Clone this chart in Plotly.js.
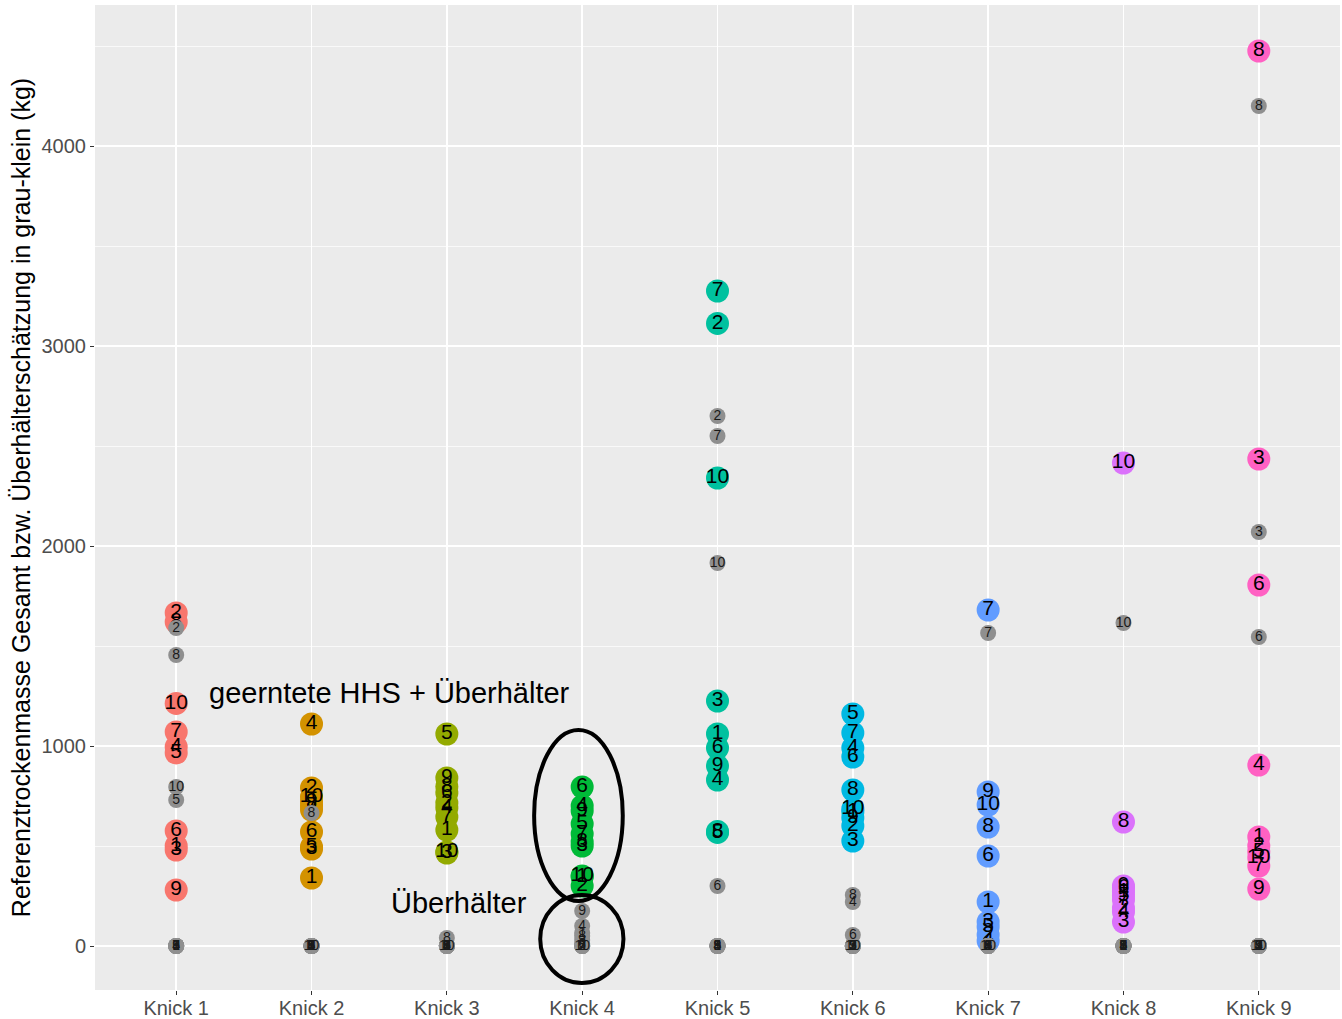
<!DOCTYPE html>
<html>
<head>
<meta charset="utf-8">
<script src="https://cdn.plot.ly/plotly-3.0.1.min.js"></script>
<style>
  html, body { margin: 0; padding: 0; background: #ffffff; }
  #chart { width: 1342px; height: 1019px; }
</style>
</head>
<body>
<div id="chart"></div>
<script>
// Knicks (hedgerow sections) on the x axis
const knicks = ['Knick 1', 'Knick 2', 'Knick 3', 'Knick 4', 'Knick 5', 'Knick 6', 'Knick 7', 'Knick 8', 'Knick 9'];
// tree numbers used as point labels
const baumNr = ['1', '2', '3', '4', '5', '6', '7', '8', '9', '10'];
const farben = ['#F8766D', '#D39200', '#93AA00', '#00BA38', '#00C19F', '#00B9E3', '#619CFF', '#DB72FB', '#FF61C3'];

// Referenztrockenmasse gesamt (kg), trees 1..10
const gesamtKnick1 = [500, 1665, 480, 995, 965, 575, 1070, 1620, 280, 1213];
const gesamtKnick2 = [340, 790, 485, 1110, 495, 570, 700, 680, 720, 745];
const gesamtKnick3 = [580, 715, 465, 690, 1060, 765, 645, 797, 840, 470];
const gesamtKnick4 = [345, 300, 500, 700, 610, 795, 560, 520, 675, 350];
const gesamtKnick5 = [1060, 3113, 1225, 830, 568, 990, 3275, 572, 900, 2340];
const gesamtKnick6 = [670, 600, 525, 990, 1160, 945, 1065, 780, 640, 685];
const gesamtKnick7 = [220, 55, 120, 25, 95, 450, 1680, 595, 770, 705];
const gesamtKnick8 = [270, 190, 120, 170, 250, 290, 230, 620, 300, 2415];
const gesamtKnick9 = [545, 500, 2435, 905, 470, 1805, 400, 4475, 285, 440];

// Überhälterschätzung (kg), trees 1..10
const ueberKnick1 = [0, 1590, 0, 0, 730, 0, 0, 1455, 0, 795];
const ueberKnick2 = [0, 0, 0, 0, 0, 0, 0, 665, 0, 0];
const ueberKnick3 = [0, 0, 0, 0, 0, 0, 0, 40, 0, 0];
const ueberKnick4 = [65, 0, 30, 100, 0, 10, 0, 50, 175, 0];
const ueberKnick5 = [0, 2650, 0, 0, 0, 300, 2550, 0, 0, 1915];
const ueberKnick6 = [0, 0, 0, 220, 0, 55, 0, 255, 0, 0];
const ueberKnick7 = [0, 0, 0, 0, 0, 0, 1565, 0, 0, 0];
const ueberKnick8 = [0, 0, 0, 0, 0, 0, 0, 0, 0, 1615];
const ueberKnick9 = [0, 0, 2070, 0, 0, 1545, 0, 4200, 0, 0];

const gesamt = [gesamtKnick1, gesamtKnick2, gesamtKnick3, gesamtKnick4, gesamtKnick5,
                gesamtKnick6, gesamtKnick7, gesamtKnick8, gesamtKnick9];
const ueber = [ueberKnick1, ueberKnick2, ueberKnick3, ueberKnick4, ueberKnick5,
               ueberKnick6, ueberKnick7, ueberKnick8, ueberKnick9];

const FONT = 'Liberation Sans, Arial, sans-serif';
const traces = [];

// large coloured points: total mass per tree
knicks.forEach((k, i) => {
  traces.push({
    type: 'scatter',
    mode: 'markers+text',
    x: baumNr.map(() => k),
    y: gesamt[i],
    text: baumNr,
    textposition: 'middle center',
    textfont: { family: FONT, size: 21, color: '#000000' },
    marker: { size: 23, color: farben[i], line: { width: 0 } },
    cliponaxis: false,
    hoverinfo: 'skip',
    showlegend: false
  });
});

// small grey points: Überhälter estimate per tree
knicks.forEach((k, i) => {
  traces.push({
    type: 'scatter',
    mode: 'markers+text',
    x: baumNr.map(() => k),
    y: ueber[i],
    text: baumNr,
    textposition: 'middle center',
    textfont: { family: FONT, size: 14, color: '#1a1a1a' },
    marker: { size: 16, color: '#8F8F8F', line: { width: 0 } },
    cliponaxis: false,
    hoverinfo: 'skip',
    showlegend: false
  });
});

const layout = {
  width: 1342,
  height: 1019,
  margin: { l: 95, r: 2, t: 5, b: 29 },
  paper_bgcolor: '#FFFFFF',
  plot_bgcolor: '#EBEBEB',
  font: { family: FONT },
  xaxis: {
    type: 'category',
    categoryorder: 'array',
    categoryarray: knicks,
    range: [-0.6, 8.6],
    showgrid: true,
    gridcolor: '#FFFFFF',
    gridwidth: 1.5,
    zeroline: false,
    showline: false,
    ticks: 'outside',
    ticklen: 4,
    tickwidth: 1,
    tickcolor: '#333333',
    ticklabelstandoff: -4,
    tickfont: { family: FONT, size: 20, color: '#4D4D4D' }
  },
  yaxis: {
    range: [-220, 4705],
    tick0: 0,
    dtick: 1000,
    tickformat: 'd',
    showgrid: true,
    gridcolor: '#FFFFFF',
    gridwidth: 1.5,
    minor: { dtick: 500, showgrid: true, gridcolor: '#FFFFFF', gridwidth: 0.7 },
    zeroline: false,
    showline: false,
    ticks: 'outside',
    ticklen: 4,
    tickwidth: 1,
    tickcolor: '#333333',
    tickfont: { family: FONT, size: 20, color: '#4D4D4D' },
    title: {
      text: 'Referenztrockenmasse Gesamt bzw. Überhälterschätzung in grau-klein (kg)',
      font: { family: FONT, size: 25, color: '#000000' },
      standoff: 3
    }
  },
  annotations: [
    { x: 1.576, y: 1265, xref: 'x', yref: 'y', text: 'geerntete HHS + Überhälter',
      showarrow: false, xanchor: 'center', yanchor: 'middle',
      font: { family: FONT, size: 29, color: '#000000' } },
    { x: 2.09, y: 215, xref: 'x', yref: 'y', text: 'Überhälter',
      showarrow: false, xanchor: 'center', yanchor: 'middle',
      font: { family: FONT, size: 29, color: '#000000' } }
  ],
  shapes: [
    { type: 'circle', xref: 'x', yref: 'y', x0: 2.645, x1: 3.3, y0: 225, y1: 1080,
      line: { color: '#000000', width: 4 }, fillcolor: 'rgba(0,0,0,0)' },
    { type: 'circle', xref: 'x', yref: 'y', x0: 2.69, x1: 3.305, y0: -185, y1: 255,
      line: { color: '#000000', width: 4 }, fillcolor: 'rgba(0,0,0,0)' }
  ]
};

Plotly.newPlot('chart', traces, layout, { displayModeBar: false, staticPlot: true });
</script>
</body>
</html>
